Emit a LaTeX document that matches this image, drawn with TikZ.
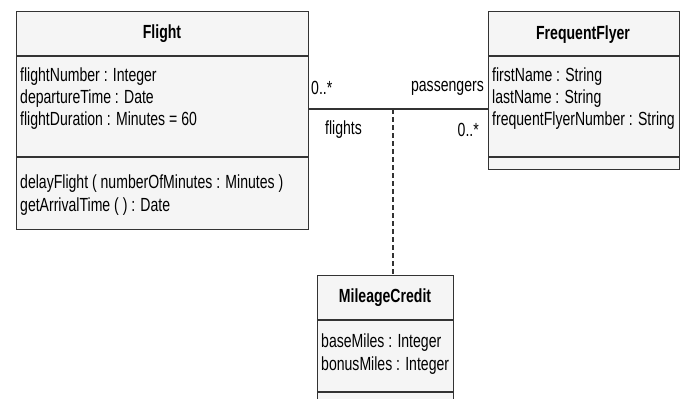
\documentclass[tikz,border=0pt]{standalone}
\usepackage{fontspec}
\setmainfont{Liberation Sans}[FakeStretch=0.74]
\definecolor{boxfill}{HTML}{F5F5F5}
\definecolor{edge}{HTML}{333333}
\begin{document}
\begin{tikzpicture}[x=1pt,y=-1pt,
  classbox/.style={draw=edge,fill=boxfill,line width=1.3pt,anchor=north west,inner sep=0pt},
  sep/.style={draw=edge,line width=1.3pt},
  title/.style={font=\fontsize{19}{22}\selectfont\bfseries,inner sep=0pt},
  attr/.style={font=\fontsize{19}{22}\selectfont,anchor=west,inner sep=0pt},
  lbl/.style={font=\fontsize{19}{22}\selectfont,inner sep=0pt},
  assoc/.style={draw=edge,line width=1.3pt},
  dep/.style={draw=edge,line width=1.3pt,dash pattern=on 5pt off 3pt}]
\clip (0,0) rectangle (681,399);
\fill[white] (0,0) rectangle (681,399);
% Flight
\node[classbox,minimum width=292pt,minimum height=218pt] (flight) at (16,11) {};
\draw[sep] (16,56) -- (308,56);
\draw[sep] (16,157) -- (308,157);
\node[title] (flightT) at (162,34) {Flight};
\node[attr] (f1) at (20,77) {flightNumber : Integer};
\node[attr] (f2) at (20,99) {departureTime : Date};
\node[attr] (f3) at (20,121) {flightDuration : Minutes = 60};
\node[attr] (f4) at (20,184) {delayFlight ( numberOfMinutes : Minutes )};
\node[attr] (f5) at (20,207) {getArrivalTime ( ) : Date};
% FrequentFlyer
\node[classbox,minimum width=191pt,minimum height=158pt] (ff) at (488,11) {};
\draw[sep] (488,56) -- (679,56);
\draw[sep] (488,157) -- (679,157);
\node[title] (ffT) at (583,35) {FrequentFlyer};
\node[attr] (g1) at (492,77) {firstName : String};
\node[attr] (g2) at (492,99) {lastName : String};
\node[attr] (g3) at (492,121) {frequentFlyerNumber : String};
% MileageCredit
\node[classbox,minimum width=136pt,minimum height=140pt] (mc) at (317,275) {};
\draw[sep] (317,320) -- (453,320);
\draw[sep] (317,392) -- (453,392);
\node[title] (mcT) at (385,298) {MileageCredit};
\node[attr] (m1) at (321,343) {baseMiles : Integer};
\node[attr] (m2) at (321,366) {bonusMiles : Integer};
% association
\coordinate (mid) at (393,109);
\draw[assoc] (flight.east |- mid) -- (ff.west |- mid);
\draw[dep] (mid) -- (mid |- mc.north);
\node[lbl,anchor=west] (l1) at (311,88) {0..*};
\node[lbl,anchor=east] (l2) at (484,88) {passengers};
\node[lbl,anchor=west] (l3) at (325,130) {flights};
\node[lbl,anchor=east] (l4) at (479,130) {0..*};
\end{tikzpicture}
\end{document}
